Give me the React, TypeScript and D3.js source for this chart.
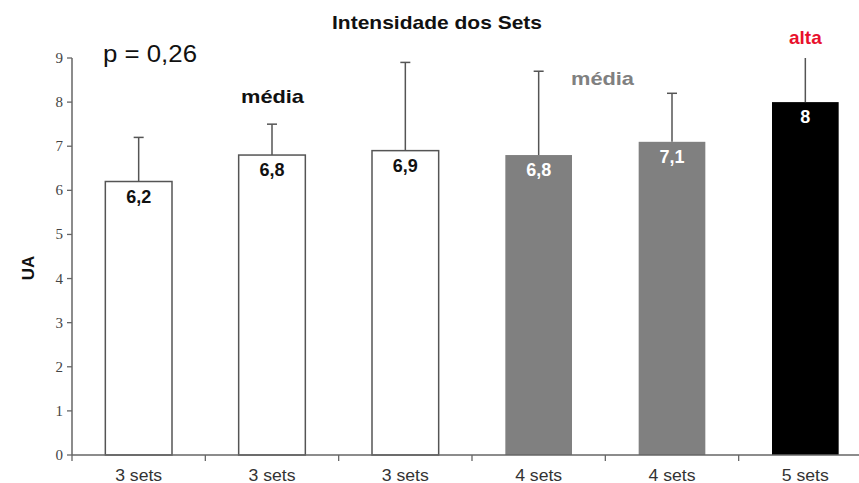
import React from "react";
import * as d3 from "d3";

const categories = ["3 sets", "3 sets", "3 sets", "4 sets", "4 sets", "5 sets"];
const means = [6.2, 6.8, 6.9, 6.8, 7.1, 8];
const upperErrors = [7.2, 7.5, 8.9, 8.7, 8.2, 9];
const valueLabels = ["6,2", "6,8", "6,9", "6,8", "7,1", "8"];
const fills = ["#ffffff", "#ffffff", "#ffffff", "#808080", "#808080", "#000000"];
const labelColors = ["#111", "#111", "#111", "#fff", "#fff", "#fff"];
const yTicks = [0, 1, 2, 3, 4, 5, 6, 7, 8, 9];

const W = 859;
const H = 483;
const left = 72;
const right = 872;
const top = 58;
const bottom = 455;

export default function App() {
  const x = d3
    .scaleBand<number>()
    .domain(d3.range(categories.length))
    .range([left, right])
    .paddingInner(0.5)
    .paddingOuter(0.25);
  const y = d3.scaleLinear().domain([0, 9]).range([bottom, top]);
  const step = x.step();
  const bw = x.bandwidth();
  const axisColor = "#666";

  return (
    <svg
      width={W}
      height={H}
      style={{ position: "absolute", left: 0, top: 0, background: "#fff" }}
      fontFamily="Arial, 'Liberation Sans', sans-serif"
    >
      {/* title */}
      <text x={437} y={29} textAnchor="middle" fontSize={19} fontWeight="bold" fill="#111"
        textLength={210} lengthAdjust="spacingAndGlyphs">
        Intensidade dos Sets
      </text>

      {/* y axis */}
      <line x1={left} x2={left} y1={top} y2={bottom} stroke={axisColor} strokeWidth={1.5} />
      {yTicks.map((t) => (
        <g key={t}>
          <line x1={left - 5} x2={left} y1={y(t)} y2={y(t)} stroke={axisColor} strokeWidth={1.3} />
          <text x={left - 9} y={y(t) + 5} textAnchor="end" fontSize={15}
            fontFamily="'Liberation Serif', 'DejaVu Serif', serif" fill="#444">
            {t}
          </text>
        </g>
      ))}
      <text transform={`translate(34,268) rotate(-90)`} textAnchor="middle" fontSize={17}
        fontWeight="bold" fill="#111">
        UA
      </text>

      {/* bars */}
      {means.map((m, i) => {
        const bx = x(i)!;
        const isOpen = fills[i] === "#ffffff";
        return (
          <rect key={i} x={bx} y={y(m)} width={bw} height={y(0) - y(m)} fill={fills[i]}
            stroke={isOpen ? "#555" : "none"} strokeWidth={1.5} />
        );
      })}

      {/* error bars (upper only) */}
      {means.map((m, i) => {
        const cx = x(i)! + bw / 2;
        const yTop = y(upperErrors[i]);
        const capped = upperErrors[i] < 9;
        return (
          <g key={i} stroke="#555" strokeWidth={1.5}>
            <line x1={cx} x2={cx} y1={y(m)} y2={yTop} />
            {capped && <line x1={cx - 5} x2={cx + 5} y1={yTop} y2={yTop} />}
          </g>
        );
      })}

      {/* value labels */}
      {means.map((m, i) => (
        <text key={i} x={x(i)! + bw / 2} y={y(m) + 21} textAnchor="middle" fontSize={18}
          fontWeight="bold" fill={labelColors[i]}>
          {valueLabels[i]}
        </text>
      ))}

      {/* x axis */}
      <line x1={left} x2={right} y1={bottom} y2={bottom} stroke={axisColor} strokeWidth={1.5} />
      {d3.range(categories.length).map((i) => (
        <line key={i} x1={left + i * step} x2={left + i * step} y1={bottom} y2={bottom + 6}
          stroke={axisColor} strokeWidth={1.3} />
      ))}
      {categories.map((c, i) => (
        <text key={i} x={x(i)! + bw / 2} y={481} textAnchor="middle" fontSize={16} fill="#333"
          textLength={47} lengthAdjust="spacingAndGlyphs">
          {c}
        </text>
      ))}

      {/* annotations */}
      <text x={103} y={61.5} fontSize={23} fill="#111" textLength={94} lengthAdjust="spacingAndGlyphs">
        p = 0,26
      </text>
      <text x={241} y={103} fontSize={19} fontWeight="bold" fill="#111" textLength={63}
        lengthAdjust="spacingAndGlyphs">
        média
      </text>
      <text x={571} y={85} fontSize={19} fontWeight="bold" fill="#808080" textLength={63}
        lengthAdjust="spacingAndGlyphs">
        média
      </text>
      <text x={x(5)! + bw / 2} y={44} textAnchor="middle" fontSize={19} fontWeight="bold" fill="#e8112d">
        alta
      </text>
    </svg>
  );
}
